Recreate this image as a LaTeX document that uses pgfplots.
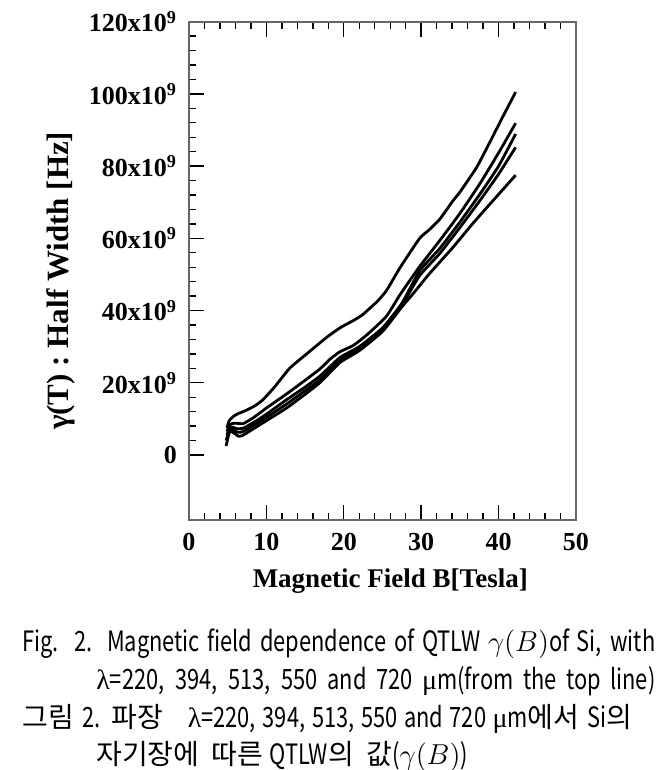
\documentclass[border=0pt]{standalone}
\usepackage{fontspec}
\setmainfont{Liberation Serif}
\newfontfamily\krfont{Noto Sans CJK KR}
\newfontfamily\capfont[FakeStretch=0.78]{Noto Sans CJK KR}
\newfontfamily\grkfont{Liberation Serif}
\usepackage{pgfplots}
\pgfplotsset{compat=1.18}
\pgfplotstableread{
x y
4.9 7.5
5.2 9.5
5.8 10.8
6.5 11.6
7.2 12.2
8.5 13.6
9.5 15.2
11.0 18.7
13.0 24.0
15.2 28.0
17.8 32.6
19.5 35.2
21.2 37.2
22.4 38.8
24.3 42.5
25.5 45.5
27.3 52.0
29.8 60.0
31.0 62.3
32.4 65.3
34.1 70.4
35.0 72.8
37.2 79.8
39.1 87.6
40.5 93.5
42.2 100.5
}\ca
\pgfplotstableread{
x y
4.9 6.5
5.3 8.5
6.0 8.8
7.0 8.7
8.3 10.3
10.0 13.0
12.6 16.9
15.0 20.7
16.9 23.8
18.2 26.5
19.5 28.6
21.2 30.3
23.0 33.3
25.5 38.4
27.3 44.5
29.8 52.2
32.4 59.4
35.0 66.9
37.6 75.2
40.2 84.4
42.2 91.9
}\cb
\pgfplotstableread{
x y
4.9 5.5
5.3 7.8
6.2 7.3
7.0 7.4
8.5 9.2
10.0 11.3
12.6 15.3
15.0 18.8
17.0 22.0
19.5 27.0
22.0 30.0
25.0 35.2
27.5 42.0
29.8 51.0
32.4 57.2
35.0 64.5
37.6 72.3
40.0 80.0
42.2 88.9
}\cc
\pgfplotstableread{
x y
4.8 4.0
5.3 7.2
6.3 6.3
7.0 6.5
8.5 8.4
10.0 10.4
12.6 14.1
15.0 17.8
17.0 21.0
19.5 26.3
22.0 29.4
25.0 34.6
27.5 41.5
29.8 49.7
32.4 55.8
35.0 63.0
37.6 70.5
40.0 77.8
42.2 85.2
}\cd
\pgfplotstableread{
x y
4.8 2.5
5.3 6.6
6.4 5.2
7.0 5.5
8.5 7.5
10.0 9.5
12.6 13.0
15.0 16.8
17.0 20.2
19.5 25.6
22.0 28.9
25.0 34.2
27.5 41.0
29.0 44.8
31.1 50.3
34.1 57.5
36.7 64.2
39.3 70.5
42.2 77.5
}\ce
\begin{document}
\begin{tikzpicture}
\path[use as bounding box] (-94.5pt,-125pt) rectangle (237pt,260pt);
\begin{axis}[
  scale only axis, width=193.5pt, height=249.15pt,
  xmin=0, xmax=50, ymin=-18, ymax=120,
  xtick={0,10,...,50}, minor x tick num=4,
  ytick={0,20,...,120}, minor y tick num=4,
  yticklabels={\textbf{0},\textbf{20x10\textsuperscript{9}},\textbf{40x10\textsuperscript{9}},\textbf{60x10\textsuperscript{9}},\textbf{80x10\textsuperscript{9}},\textbf{100x10\textsuperscript{9}},\textbf{120x10\textsuperscript{9}}},
  /pgf/number format/assume math mode=true,
  tick align=inside,
  xtick pos=both, xticklabel pos=lower,
  ytick pos=left,
  major tick length=7.5pt, minor tick length=3.5pt,
  axis line style={black!60, line width=0.9pt},
  tick style={black, line width=0.7pt},
  ticklabel style={font=\fontsize{13}{13}\selectfont\bfseries},
  yticklabel style={xshift=-2.5pt},
  xticklabel style={yshift=-3.3pt},
  xlabel={\textbf{Magnetic Field B[Tesla]}},
  every axis x label/.style={at={(rel axis cs:0.52,0)}, yshift=-34pt, anchor=base, font=\fontsize{13.5}{13.5}\selectfont},
  ylabel={\textbf{γ(T) :  Half Width [Hz]}},
  every axis y label/.style={at={(rel axis cs:0,0.48)}, xshift=-64pt, rotate=90, anchor=center, font=\fontsize{15.5}{15.5}\selectfont},
]
\addplot[black, line width=1.4pt, smooth, tension=0.3] table[x=x,y=y]{\ca};
\addplot[black, line width=1.4pt, smooth, tension=0.3] table[x=x,y=y]{\cb};
\addplot[black, line width=1.4pt, smooth, tension=0.3] table[x=x,y=y]{\cc};
\addplot[black, line width=1.4pt, smooth, tension=0.3] table[x=x,y=y]{\cd};
\addplot[black, line width=1.4pt, smooth, tension=0.3] table[x=x,y=y]{\ce};
\end{axis}
\begin{scope}[every node/.style={inner sep=0pt, anchor=base west, font=\fontsize{14}{14}\selectfont}]
\node at (-83.5pt,-65.5pt) {\makebox[316.5pt][s]{\capfont Fig.\ \ 2. Magnetic field dependence of QTLW $\gamma(B)$of Si, with}};
\node at (-46.5pt,-84.5pt) {\makebox[279.5pt][s]{{\grkfont λ}\capfont=220, 394, 513, 550 and 720 {\grkfont μ}m(from the top line)}};
\node at (-83.5pt,-103.5pt) {\makebox[305pt][s]{\krfont 그림 \capfont 2. \krfont 파장\ \ \ {\grkfont λ}\capfont=220, 394, 513, 550 and 720 {\grkfont μ}m\krfont 에서 \capfont Si\krfont 의}};
\node at (-46.5pt,-122pt) {\krfont 자기장에\ \ 따른 \capfont QTLW\krfont 의\ \ 값\capfont($\gamma(B)$)};
\end{scope}
\end{tikzpicture}
\end{document}
